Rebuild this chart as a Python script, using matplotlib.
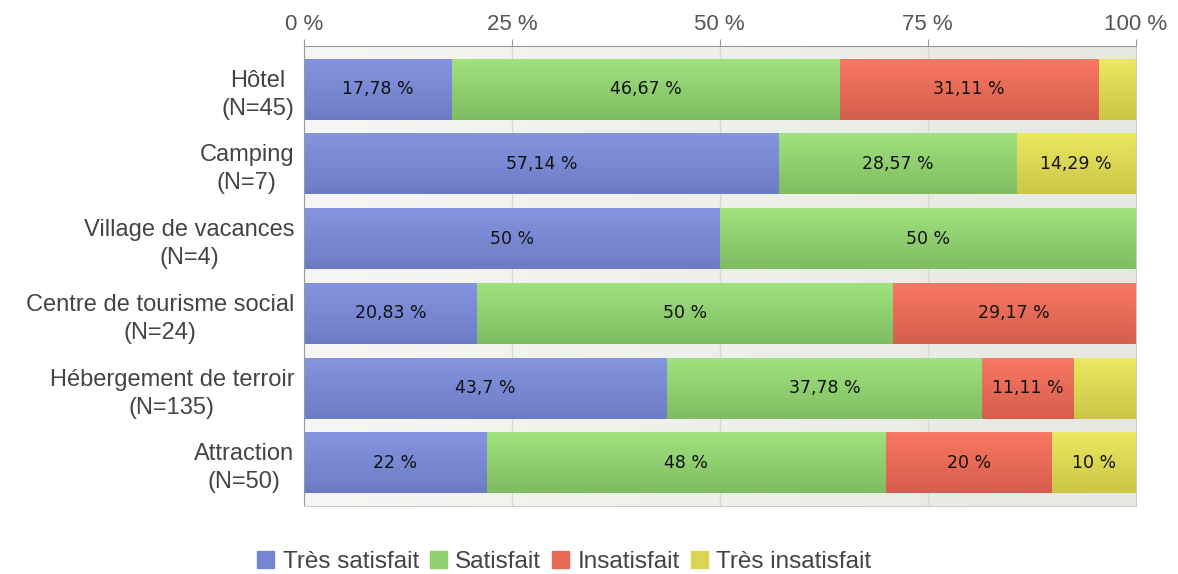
import matplotlib.pyplot as plt
import numpy as np
from matplotlib.colors import LinearSegmentedColormap

categories = ['Hôtel\n(N=45)', 'Camping\n(N=7)', 'Village de vacances\n(N=4)',
              'Centre de tourisme social\n(N=24)', 'Hébergement de terroir\n(N=135)',
              'Attraction\n(N=50)']
series = ['Très satisfait', 'Satisfait', 'Insatisfait', 'Très insatisfait']
tres_satisfait = [17.78, 57.14, 50, 20.83, 43.7, 22]
satisfait = [46.67, 28.57, 50, 50, 37.78, 48]
insatisfait = [31.11, 0, 0, 29.17, 11.11, 20]
tres_insatisfait = [4.44, 14.29, 0, 0, 7.41, 10]
values = [tres_satisfait, satisfait, insatisfait, tres_insatisfait]

# top / bottom colours of each bar gradient
tops = ['#8494e0', '#a0e27e', '#f87862', '#ebe862']
bottoms = ['#6c7cc4', '#80bc62', '#d65e4c', '#cbc646']
legend_cols = ['#7585d2', '#8fcf6e', '#e86a56', '#dbd652']

fig = plt.figure(figsize=(11.78, 5.74), dpi=100)
ax = fig.add_axes([0.258, 0.118, 0.706, 0.802])

y0, y1 = 5.58, -0.58
# background gradient
bg = LinearSegmentedColormap.from_list('bg', ['#f6f7f4', '#e6e8e2'])
ax.imshow(np.linspace(0, 1, 256).reshape(1, -1), cmap=bg, aspect='auto',
          extent=[0, 100, y0, y1], zorder=0)

for xv in [25, 50, 75]:
    ax.axvline(xv, color='#d8d8d8', lw=1, zorder=1)

h = 0.813
for i, cat in enumerate(categories):
    left = 0
    for s in range(4):
        v = values[s][i]
        if v <= 0:
            continue
        cm = LinearSegmentedColormap.from_list('c', [tops[s], bottoms[s]])
        ax.imshow(np.linspace(0, 1, 64).reshape(-1, 1), cmap=cm, aspect='auto',
                  extent=[left, left + v, i + h / 2, i - h / 2], zorder=2)
        if v >= 8:
            txt = ('%g' % v).replace('.', ',') + ' %'
            ax.text(left + v / 2, i, txt, ha='center', va='center',
                    fontsize=12.5, color='#111111', family='DejaVu Sans', zorder=3)
        left += v

ax.set_xlim(0, 100)
ax.set_ylim(y0, y1)
ax.xaxis.tick_top()
ax.set_xticks([0, 25, 50, 75, 100])
ax.set_xticklabels(['0 %', '25 %', '50 %', '75 %', '100 %'], fontsize=16,
                   color='#555555', family='Liberation Sans')
ax.tick_params(axis='x', length=5, color='#999999', pad=3)
ax.set_yticks(range(len(categories)))
ax.set_yticklabels(categories, fontsize=17, color='#444444',
                   family='Liberation Sans', ha='right', multialignment='center',
                   linespacing=1.35)
ax.tick_params(axis='y', length=0, pad=7)

for side in ['right', 'bottom']:
    ax.spines[side].set_color('#cccccc')
ax.spines['top'].set_color('#999999')
ax.spines['left'].set_color('#999999')

handles = [plt.Rectangle((0, 0), 1, 1, color=c) for c in legend_cols]
fig.legend(handles, series, loc='lower center', ncol=4, frameon=False,
           bbox_to_anchor=(0.479, -0.036), handlelength=0.7, handleheight=0.7,
           handletextpad=0.35, columnspacing=0.45,
           prop={'family': 'Liberation Sans', 'size': 17.5}, labelcolor='#444444')

fig.savefig('out.png', dpi=100)
